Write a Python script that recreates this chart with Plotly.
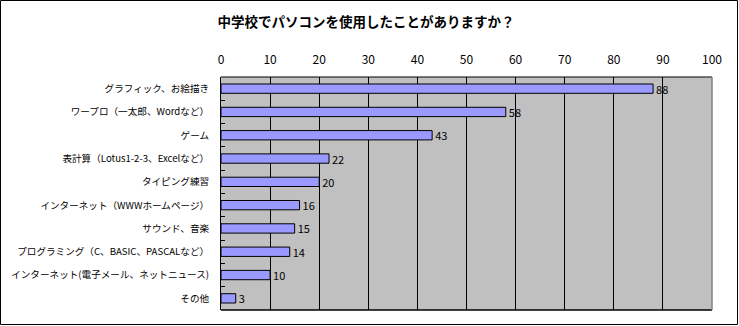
import plotly.graph_objects as go

title = "中学校でパソコンを使用したことがありますか？"
categories = [
    "グラフィック、お絵描き",
    "ワープロ（一太郎、Wordなど）",
    "ゲーム",
    "表計算（Lotus1-2-3、Excelなど）",
    "タイピング練習",
    "インターネット（WWWホームページ）",
    "サウンド、音楽",
    "プログラミング（C、BASIC、PASCALなど）",
    "インターネット(電子メール、ネットニュース)",
    "その他",
]
values = [88, 58, 43, 22, 20, 16, 15, 14, 10, 3]
x_ticks = list(range(0, 101, 10))

W, H = 739, 326
L, R, T, B = 221, 27, 77, 16
pw, ph = W - L - R, H - T - B

font = "Noto Sans CJK JP, Noto Sans, sans-serif"

fig = go.Figure(go.Bar(
    y=categories,
    x=values,
    orientation="h",
    width=0.4,
    marker=dict(color="#9999FF", line=dict(color="#000000", width=1)),
    text=[str(v) for v in values],
    textposition="outside",
    constraintext="none",
    textfont=dict(size=11, color="#000000", family=font),
    cliponaxis=False,
))


def px_to_paper_x(px):
    return (px - L) / pw


def px_to_paper_y(py):
    return (H - B - py) / ph


shapes = [
    # outer chart frame
    dict(type="rect", xref="paper", yref="paper",
         x0=px_to_paper_x(0.5), x1=px_to_paper_x(W - 1.5),
         y0=px_to_paper_y(H - 1.5), y1=px_to_paper_y(0.5),
         line=dict(color="#000000", width=1), fillcolor="rgba(0,0,0,0)", layer="above"),
    # plot area edges
    dict(type="line", xref="paper", yref="paper", x0=0, x1=1, y0=1, y1=1,
         line=dict(color="#000000", width=1)),
    dict(type="line", xref="paper", yref="paper", x0=0, x1=1, y0=0, y1=0,
         line=dict(color="#000000", width=1.5)),
    dict(type="line", xref="paper", yref="paper", x0=1, x1=1, y0=0, y1=1,
         line=dict(color="#808080", width=1.5)),
]

fig.update_layout(
    width=W, height=H,
    margin=dict(l=L, r=R, t=T, b=B, autoexpand=False),
    paper_bgcolor="#FFFFFF",
    plot_bgcolor="#C0C0C0",
    showlegend=False,
    title=dict(text=f"<b>{title}</b>", x=366 / W, xref="container", xanchor="center",
               y=1 - 22 / H, yanchor="middle",
               font=dict(size=13.5, color="#000000", family=font)),
    font=dict(family=font, color="#000000"),
    shapes=shapes,
    xaxis=dict(
        side="top", range=[0, 100], tickvals=x_ticks, ticks="",
        showgrid=True, gridcolor="#000000", gridwidth=1,
        zeroline=False, showline=False, automargin=False,
        tickfont=dict(size=12, color="#000000", family=font),
        ticklabelstandoff=10,
    ),
    yaxis=dict(
        autorange="reversed", type="category",
        ticks="inside", ticklen=4, tickcolor="#000000", tickson="boundaries",
        showline=True, linecolor="#000000", linewidth=1,
        showgrid=False, zeroline=False, automargin=False,
        tickfont=dict(size=9.6, color="#000000", family=font),
        ticklabelstandoff=9,
    ),
)

fig.write_html("out.html")
